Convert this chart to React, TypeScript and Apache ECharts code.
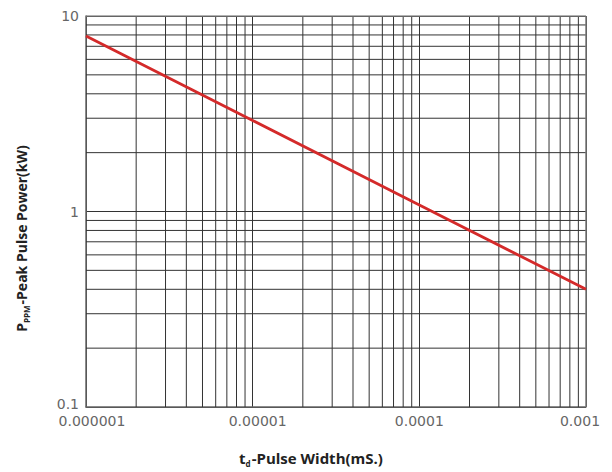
import React, { useEffect, useRef } from "react";
import * as echarts from "echarts";

const pulseWidth = [0.000001, 0.00001, 0.0001, 0.001];
const peakPower = [7.9, 2.92, 1.08, 0.4];
const xTickLabels = ["0.000001", "0.00001", "0.0001", "0.001"];
const yTickLabels = ["0.1", "1", "10"];
const xMinorGrid = [
  2e-6, 3e-6, 4e-6, 5e-6, 6e-6, 7e-6, 8e-6, 9e-6,
  2e-5, 3e-5, 4e-5, 5e-5, 6e-5, 7e-5, 8e-5, 9e-5,
  2e-4, 3e-4, 4e-4, 5e-4, 6e-4, 7e-4, 8e-4, 9e-4,
];
const yMinorGrid = [0.2, 0.3, 0.4, 0.5, 0.6, 0.7, 0.8, 0.9, 2, 3, 4, 5, 6, 7, 8, 9];

export default function App() {
  const ref = useRef<HTMLDivElement>(null);
  useEffect(() => {
    if (!ref.current) return;
    const chart = echarts.init(ref.current, null, { renderer: "svg" });
    const pts = pulseWidth.map((x, i) => [x, peakPower[i]]);
    const xMin = pulseWidth[0];
    const xMax = pulseWidth[pulseWidth.length - 1];
    const yMin = 0.1;
    const yMax = 10;
    const gridSeries = (data: number[][], color: string, width: number) => ({
      type: "line",
      data,
      z: 1,
      showSymbol: false,
      silent: true,
      animation: false,
      lineStyle: { color, width },
    });
    const verticals = xMinorGrid.map((v) =>
      gridSeries([[v, yMin], [v, yMax]], "#333", 1)
    );
    const horizontals = yMinorGrid.map((v) =>
      gridSeries([[xMin, v], [xMax, v]], "#333", 1)
    );
    const border = [
      gridSeries([[xMax, yMin], [xMax, yMax]], "#777", 1.5),
      gridSeries([[xMin, yMax], [xMax, yMax]], "#777", 1.5),
    ];
    const mkRich = (size: number) => ({
      b: { fontSize: size, fontWeight: "bold", fontFamily: "Open Sans", color: "#222", lineHeight: 18, verticalAlign: "middle" },
      s: { fontSize: 8, fontWeight: "bold", fontFamily: "Open Sans", color: "#222", lineHeight: 18, verticalAlign: "bottom", padding: [6, 1, 0, 0] },
    });
    const tickStyle = { color: "#666", fontSize: 14, fontFamily: "DejaVu Sans" };
    const xShift = [12, 10, 0, -12];
    chart.setOption({
      animation: false,
      grid: { left: 86, right: 26, top: 16, bottom: 64 },
      xAxis: {
        type: "log",
        logBase: 10,
        min: xMin,
        max: xMax,
        name: "{b|t}{s|d}{b|-Pulse Width(mS.)}",
        nameLocation: "middle",
        nameGap: 42,
        nameTextStyle: { rich: mkRich(15), padding: [0, 50, 0, 0] },
        axisLine: { show: true, lineStyle: { color: "#666", width: 1.5 } },
        axisTick: { show: false },
        axisLabel: {
          ...tickStyle,
          margin: 7,
          formatter: (_v: number, i: number) => {
            const t = xTickLabels[i] ?? "";
            return "{p" + i + "|" + t + "}";
          },
          rich: Object.fromEntries(
            xShift.map((s, i) => [
              "p" + i,
              { ...tickStyle, padding: s >= 0 ? [0, 0, 0, s] : [0, -s, 0, 0] },
            ])
          ),
        },
        splitLine: { show: true, lineStyle: { color: "#333", width: 1 } },
      },
      yAxis: {
        type: "log",
        logBase: 10,
        min: yMin,
        max: yMax,
        name: "{b|P}{s|PPM}{b|-Peak Pulse Power(kW)}",
        nameLocation: "middle",
        nameRotate: 90,
        nameGap: 56,
        nameTextStyle: { rich: mkRich(14), padding: [0, 54, 0, 0] },
        axisLine: { show: true, lineStyle: { color: "#666", width: 1.5 } },
        axisTick: { show: false },
        axisLabel: {
          ...tickStyle,
          margin: 7,
          formatter: (_v: number, i: number) => {
            const t = yTickLabels[i] ?? "";
            return i === 0 ? "{low|" + t + "}" : t;
          },
          rich: { low: { ...tickStyle, padding: [0, 0, 6, 0] } },
        },
        splitLine: { show: true, lineStyle: { color: "#333", width: 1 } },
      },
      series: [
        ...verticals,
        ...horizontals,
        ...border,
        {
          type: "line",
          data: pts,
          z: 5,
          showSymbol: false,
          lineStyle: { color: "#d42a2a", width: 2.8 },
        },
      ],
    });
    return () => chart.dispose();
  }, []);
  return <div ref={ref} style={{ width: 612, height: 472, position: "absolute", left: 0, top: 0 }} />;
}
